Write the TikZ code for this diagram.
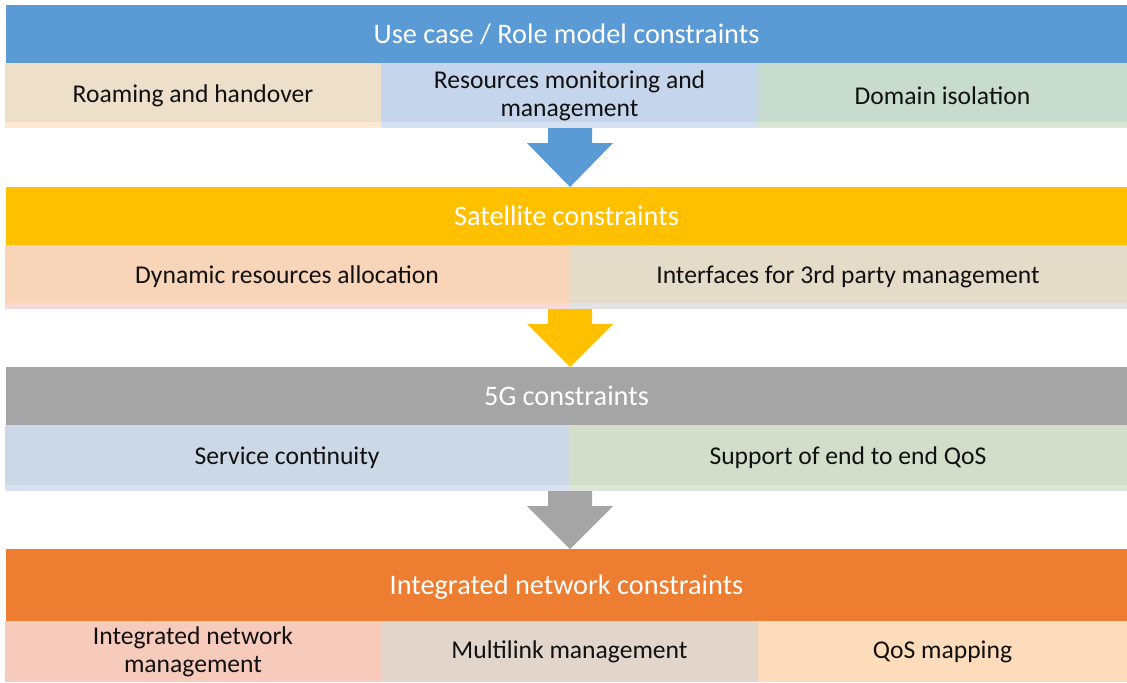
\documentclass[tikz,border=0pt]{standalone}
\usepackage{fontspec}
\setmainfont{Carlito}
\definecolor{hblue}{HTML}{5B9BD5}
\definecolor{hyellow}{HTML}{FFC000}
\definecolor{hgray}{HTML}{A5A5A5}
\definecolor{horange}{HTML}{ED7D31}
\definecolor{ca}{HTML}{EEDFCB}\definecolor{cas}{HTML}{FDE9D2}
\definecolor{cb}{HTML}{C5D6EC}\definecolor{cbs}{HTML}{D5E1F1}
\definecolor{cc}{HTML}{C7DCCF}\definecolor{ccs}{HTML}{DAE6D5}
\definecolor{cd}{HTML}{F8D5B8}\definecolor{cds}{HTML}{F8DAD4}
\definecolor{ce}{HTML}{E4DCC9}\definecolor{ces}{HTML}{E3E3E3}
\definecolor{cf}{HTML}{CCD8E6}\definecolor{cfs}{HTML}{D7E2EE}
\definecolor{cg}{HTML}{D2DDCA}\definecolor{cgs}{HTML}{DDE6D6}
\definecolor{ch}{HTML}{F7CBBB}
\definecolor{ci}{HTML}{E2D6CC}
\definecolor{cj}{HTML}{FDDCBB}
\definecolor{txt}{HTML}{111111}
\begin{document}
\begin{tikzpicture}[x=0.75pt,y=-0.75pt,
  box/.style={anchor=north west, inner sep=0pt, outer sep=0pt, draw=none, align=center},
  hdr/.style={box, text=white, font=\fontsize{21.2}{24}\selectfont},
  cell/.style={box, text=txt, font=\fontsize{19.2}{21}\selectfont}]
\useasboundingbox (0,0) rectangle (1127,682);
\def\u{0.75pt}
% ---- level 1
\node[hdr, fill=hblue, minimum width=1121*\u, minimum height=58*\u, text depth=0pt] (h1) at (6,5) {Use case / Role model constraints};
\node[cell, fill=ca, minimum width=376*\u, minimum height=65*\u] (r1a) at (5,63) {Roaming and handover};
\node[cell, fill=cb, minimum width=377*\u, minimum height=65*\u] (r1b) at (381,63) {Resources monitoring and\\management};
\node[cell, fill=cc, minimum width=369*\u, minimum height=65*\u] (r1c) at (758,63) {Domain isolation};
\fill[cas] (5,122) rectangle (381,128);
\fill[cbs] (381,122) rectangle (758,128);
\fill[ccs] (758,122) rectangle (1127,128);
% ---- level 2
\node[hdr, fill=hyellow, minimum width=1121*\u, minimum height=58*\u, text depth=0pt] (h2) at (6,187) {Satellite constraints};
\node[cell, fill=cd, minimum width=564*\u, minimum height=64*\u] (r2a) at (5,245) {Dynamic resources allocation};
\node[cell, fill=ce, minimum width=558*\u, minimum height=64*\u] (r2b) at (569,245) {Interfaces for 3rd party management};
\fill[cds] (5,303) rectangle (569,309);
\fill[ces] (569,303) rectangle (1127,309);
% ---- level 3
\node[hdr, fill=hgray, minimum width=1121*\u, minimum height=58*\u, text depth=0pt] (h3) at (6,367) {5G constraints};
\node[cell, fill=cf, minimum width=564*\u, minimum height=66*\u] (r3a) at (5,425) {Service continuity};
\node[cell, fill=cg, minimum width=558*\u, minimum height=66*\u] (r3b) at (569,425) {Support of end to end QoS};
\fill[cfs] (5,485) rectangle (569,491);
\fill[cgs] (569,485) rectangle (1127,491);
% ---- level 4
\node[hdr, fill=horange, minimum width=1121*\u, minimum height=72*\u, text depth=0pt] (h4) at (6,549) {Integrated network constraints};
\node[cell, fill=ch, minimum width=376*\u, minimum height=61*\u] (r4a) at (5,621) {Integrated network\\management};
\node[cell, fill=ci, minimum width=377*\u, minimum height=61*\u] (r4b) at (381,621) {Multilink management};
\node[cell, fill=cj, minimum width=369*\u, minimum height=61*\u] (r4c) at (758,621) {QoS mapping};
% ---- block arrows
\coordinate (a1) at (570,128);
\coordinate (a2) at (570,309);
\coordinate (a3) at (570,491);
\fill[hblue] (a1) ++(-22,0) -- ++(0,15) -- ++(-21,0) -- (h2.north -| a1) -- (613,143) -- (592,143) -- (592,128) -- cycle;
\fill[hyellow] (a2) ++(-22,0) -- ++(0,15) -- ++(-21,0) -- (h3.north -| a2) -- (613,324) -- (592,324) -- (592,309) -- cycle;
\fill[hgray] (a3) ++(-22,0) -- ++(0,15) -- ++(-21,0) -- (h4.north -| a3) -- (613,506) -- (592,506) -- (592,491) -- cycle;
\end{tikzpicture}
\end{document}
